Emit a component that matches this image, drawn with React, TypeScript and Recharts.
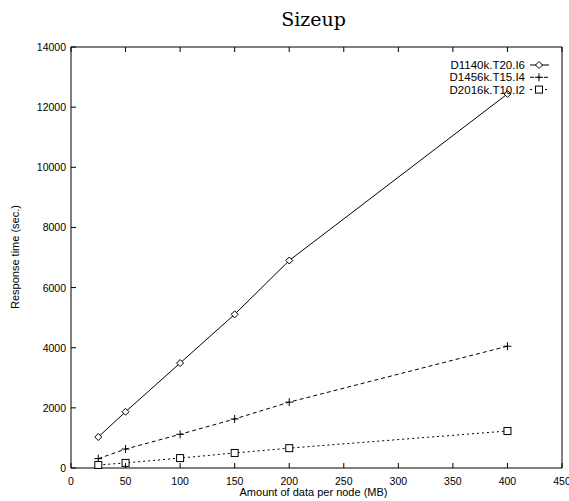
import React from 'react';
import { LineChart, Line, XAxis, YAxis } from 'recharts';

const dataSizes = [25, 50, 100, 150, 200, 400];
const d1140k = [1030, 1870, 3490, 5110, 6900, 12440];
const d1456k = [310, 630, 1120, 1630, 2190, 4050];
const d2016k = [100, 170, 330, 500, 660, 1230];

const xTicks = [0, 50, 100, 150, 200, 250, 300, 350, 400, 450];
const yTicks = [0, 2000, 4000, 6000, 8000, 10000, 12000, 14000];

const series = [
    { key: 'D1140k.T20.I6', values: d1140k, dash: undefined, marker: 'diamond' },
    { key: 'D1456k.T15.I4', values: d1456k, dash: '4 3', marker: 'plus' },
    { key: 'D2016k.T10.I2', values: d2016k, dash: '2 3', marker: 'square' },
];

const data = dataSizes.map((size, i) => {
    const row: any = { size };
    series.forEach((s) => {
        row[s.key] = s.values[i];
    });
    return row;
});

const FONT = '"Liberation Sans", Arial, sans-serif';

const Marker = ({ type, cx, cy }: { type: string; cx: number; cy: number }) => {
    if (type === 'diamond') {
        return (
            <path
                d={`M${cx},${cy - 3.5}L${cx + 3.5},${cy}L${cx},${cy + 3.5}L${cx - 3.5},${cy}Z`}
                fill="white"
                stroke="black"
            />
        );
    }
    if (type === 'plus') {
        return (
            <path
                d={`M${cx - 4},${cy}H${cx + 4}M${cx},${cy - 4}V${cy + 4}`}
                stroke="black"
            />
        );
    }
    return (
        <rect x={cx - 3.5} y={cy - 3.5} width={7} height={7} fill="white" stroke="black" />
    );
};

// ticks point inward, labels sit outside the frame
const BottomTick = (props: any) => {
    const { payload } = props;
    const x = payload.coordinate;
    const y = 468;
    return (
        <g>
            <line x1={x} y1={y} x2={x} y2={y - 5} stroke="black" />
            <text x={x} y={y + 17} textAnchor="middle" fontSize={10.5} fontFamily={FONT} fill="black">
                {payload.value}
            </text>
        </g>
    );
};

const TopTick = (props: any) => {
    const x = props.payload.coordinate;
    return <line x1={x} y1={47} x2={x} y2={52} stroke="black" />;
};

const LeftTick = (props: any) => {
    const { payload } = props;
    const y = payload.coordinate;
    const x = 71;
    return (
        <g>
            <line x1={x} y1={y} x2={x + 5} y2={y} stroke="black" />
            <text x={x - 5} y={y + 4} textAnchor="end" fontSize={10.5} fontFamily={FONT} fill="black">
                {payload.value}
            </text>
        </g>
    );
};

const RightTick = (props: any) => {
    const y = props.payload.coordinate;
    return <line x1={562} y1={y} x2={557} y2={y} stroke="black" />;
};

const LegendBox = () => (
    <svg width={130} height={40} style={{ display: 'block' }}>
        {series.map((s, i) => {
            const y = 6 + i * 12.3;
            return (
                <g key={s.key}>
                    <text
                        x={87}
                        y={y + 4}
                        textAnchor="end"
                        fontSize={11.5}
                        fontFamily={FONT}
                        fill="black"
                    >
                        {s.key}
                    </text>
                    <line x1={92} y1={y} x2={111} y2={y} stroke="black" strokeDasharray={s.dash} />
                    <Marker type={s.marker} cx={101} cy={y} />
                </g>
            );
        })}
    </svg>
);

export default function App() {
    return (
        <div style={{ position: 'absolute', left: 0, top: 0, width: 569, height: 501, background: 'white' }}>
            <div
                style={{
                    position: 'absolute',
                    left: 0,
                    width: 627,
                    top: 8,
                    textAlign: 'center',
                    fontFamily: '"DejaVu Serif", serif',
                    fontSize: 19,
                }}
            >
                Sizeup
            </div>
            <div
                style={{
                    position: 'absolute',
                    left: 0,
                    width: 627,
                    top: 486,
                    textAlign: 'center',
                    fontFamily: FONT,
                    fontSize: 11,
                    lineHeight: '13px',
                }}
            >
                Amount of data per node (MB)
            </div>
            <div
                style={{
                    position: 'absolute',
                    left: 15,
                    top: 257,
                    transform: 'translate(-50%, -50%) rotate(-90deg)',
                    whiteSpace: 'nowrap',
                    fontFamily: FONT,
                    fontSize: 11,
                }}
            >
                Response time (sec.)
            </div>
            <LineChart
                width={569}
                height={501}
                data={data}
                margin={{ top: 46, right: 6, bottom: 32, left: 70 }}
                style={{ position: 'absolute', left: 0, top: 0, overflow: 'visible' }}
            >
                <XAxis
                    dataKey="size"
                    type="number"
                    domain={[0, 450]}
                    ticks={xTicks}
                    height={1}
                    tickLine={false}
                    tick={<BottomTick />}
                    axisLine={{ stroke: 'black' }}
                    interval={0}
                />
                <XAxis
                    xAxisId="top"
                    orientation="top"
                    dataKey="size"
                    type="number"
                    domain={[0, 450]}
                    ticks={xTicks}
                    height={1}
                    tickLine={false}
                    tick={<TopTick />}
                    axisLine={{ stroke: 'black' }}
                    interval={0}
                />
                <YAxis
                    type="number"
                    domain={[0, 14000]}
                    ticks={yTicks}
                    width={1}
                    tickLine={false}
                    tick={<LeftTick />}
                    axisLine={{ stroke: 'black' }}
                    interval={0}
                />
                <YAxis
                    yAxisId="right"
                    orientation="right"
                    type="number"
                    domain={[0, 14000]}
                    ticks={yTicks}
                    width={1}
                    tickLine={false}
                    tick={<RightTick />}
                    axisLine={{ stroke: 'black' }}
                    interval={0}
                />
                {series.map((s) => (
                    <Line
                        key={s.key}
                        dataKey={s.key}
                        type="linear"
                        stroke="black"
                        strokeWidth={1}
                        strokeDasharray={s.dash}
                        dot={(p: any) => <Marker key={`${s.key}-${p.index}`} type={s.marker} cx={p.cx} cy={p.cy} />}
                        activeDot={false}
                        isAnimationActive={false}
                    />
                ))}
            </LineChart>
            <div style={{ position: 'absolute', left: 438, top: 59 }}>
                <LegendBox />
            </div>
        </div>
    );
}
